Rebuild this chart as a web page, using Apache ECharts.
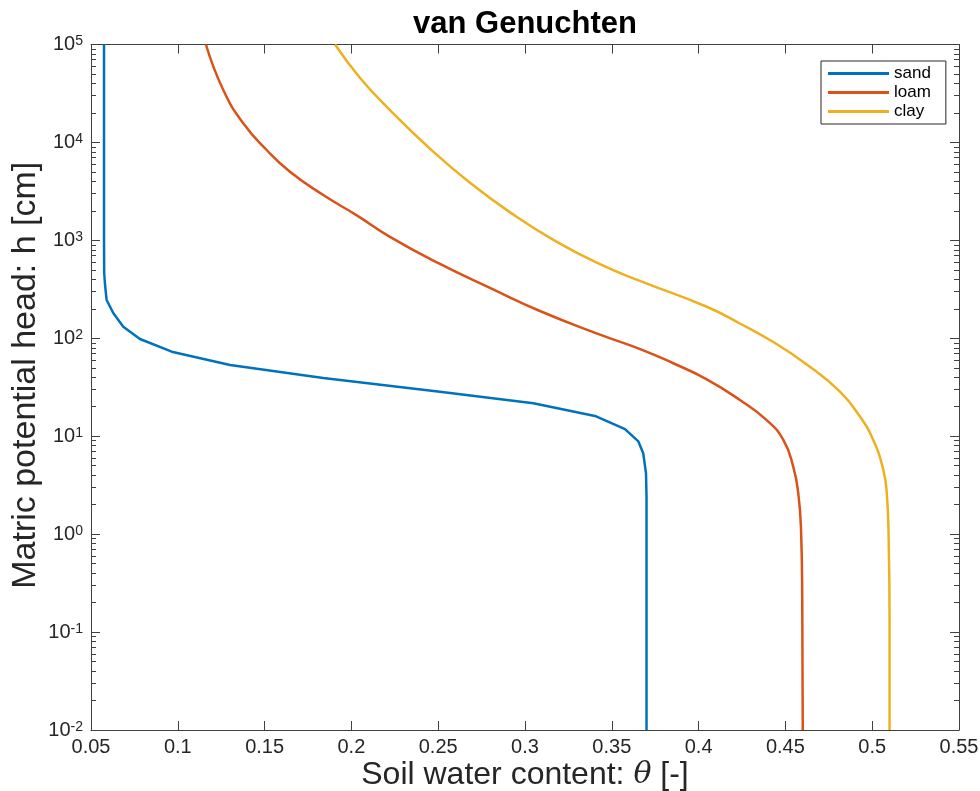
<!DOCTYPE html>
<html>
<head>
<meta charset="utf-8">
<script src="https://cdn.jsdelivr.net/npm/echarts@6/dist/echarts.min.js"></script>
<style>
html, body { margin: 0; padding: 0; background: #fff; }
#chart { width: 980px; height: 791px; }
</style>
</head>
<body>
<div id="chart"></div>
<script>
// soil types
var soilNames = ['sand', 'loam', 'clay'];
var soilColors = ['#0072BD', '#D95319', '#EDB120'];

// water content (x) and matric head in cm (y)
var sandTheta = [0.0575, 0.0575, 0.0575, 0.0576, 0.0581, 0.0590, 0.0628, 0.0686, 0.0782, 0.0965, 0.1301,
	0.1838, 0.2510, 0.3048, 0.3403, 0.3576, 0.3653, 0.3681, 0.3697, 0.3700, 0.3700];
var sandH = [100000, 10000, 1000, 464, 350, 246, 181, 131, 98.4, 73, 53.4,
	39.4, 28.5, 21.7, 16.1, 11.8, 8.85, 6.7, 4.2, 2.4, 0.01];

var loamTheta = [0.1162, 0.1262, 0.1377, 0.1512, 0.1646, 0.1838, 0.2031, 0.2222, 0.2510, 0.2798, 0.3086, 0.3432,
	0.3667, 0.3854, 0.4047, 0.4238, 0.4392, 0.4488, 0.4545, 0.4574, 0.4590, 0.4597, 0.4600];
var loamH = [100000, 34300, 15700, 8370, 5030, 2900, 1800, 1085, 574, 327, 190, 109,
	77.2, 55.6, 38.1, 23.4, 14.6, 9.15, 4.89, 2.62, 1.11, 0.214, 0.01];

var clayTheta = [0.1906, 0.2050, 0.2222, 0.2453, 0.2683, 0.2914, 0.3173, 0.3432, 0.3662, 0.4047, 0.4238, 0.4430,
	0.4623, 0.4814, 0.4930, 0.5006, 0.5064, 0.5084, 0.5095, 0.5100, 0.5100];
var clayH = [100000, 45500, 21400, 8610, 3870, 1930, 988, 571, 385, 210, 141.6, 91.6,
	54, 28.5, 15.8, 9.15, 4.52, 2.61, 0.87, 0.133, 0.01];

// axis ticks
var majorH = [0.01, 0.1, 1, 10, 100, 1000, 10000, 100000];
var minorH = [];
majorH.slice(0, -1).forEach(function (d) {
	for (var k = 2; k <= 9; k++) minorH.push(+(d * k).toPrecision(3));
});

var font = '"Liberation Sans", Arial, Helvetica, sans-serif';
var axisColor = '#404040';
var textColor = '#262626';

function pairs(xs, ys) {
	return xs.map(function (x, i) { return [x, ys[i]]; });
}

var chart = echarts.init(document.getElementById('chart'));

var gridBox = { left: 91, right: 21, top: 44.5, bottom: 61, containLabel: false, outerBoundsMode: 'none' };

var option = {
	backgroundColor: '#fff',
	animation: false,
	title: {
		text: 'van Genuchten',
		left: 525,
		top: 9,
		padding: 0,
		textAlign: 'center',
		textStyle: { fontFamily: font, fontSize: 31, fontWeight: 'bold', color: '#000' }
	},
	legend: {
		orient: 'vertical',
		left: 821,
		top: 61,
		padding: [4, 15, 4, 7],
		icon: 'rect',
		itemWidth: 61,
		itemHeight: 3,
		itemGap: 2,
		borderColor: '#262626',
		borderWidth: 1,
		backgroundColor: '#fff',
		textStyle: { fontFamily: font, fontSize: 17, color: '#000' },
		data: soilNames
	},
	grid: [
		Object.assign({}, gridBox),
		Object.assign({}, gridBox)
	],
	xAxis: [{
		type: 'value',
		gridIndex: 0,
		position: 'bottom',
		min: 0.05,
		max: 0.55,
		interval: 0.05,
		name: '{n|Soil water content: }{t|θ}{n| [-]}',
		nameLocation: 'middle',
		nameGap: 29,
		nameMoveOverlap: false,
		nameTextStyle: {
			rich: {
				n: { fontFamily: font, fontSize: 32, color: textColor },
				t: { fontFamily: '"DejaVu Serif", serif', fontStyle: 'italic', fontSize: 30, color: textColor }
			}
		},
		axisLine: { lineStyle: { color: axisColor, width: 1 } },
		axisTick: { inside: true, length: 9, lineStyle: { color: axisColor } },
		axisLabel: {
			margin: 7,
			fontFamily: font,
			fontSize: 20,
			color: textColor,
			formatter: function (v) { return String(+v.toFixed(2)); }
		},
		splitLine: { show: false }
	}, {
		type: 'value',
		gridIndex: 0,
		position: 'top',
		min: 0.05,
		max: 0.55,
		interval: 0.05,
		axisLine: { lineStyle: { color: axisColor, width: 1 } },
		axisTick: { inside: true, length: 9, lineStyle: { color: axisColor } },
		axisLabel: { show: false },
		splitLine: { show: false }
	}, {
		type: 'value',
		gridIndex: 1,
		show: false,
		min: 0.05,
		max: 0.55
	}],
	yAxis: [{
		type: 'log',
		logBase: 10,
		gridIndex: 0,
		position: 'left',
		min: 0.01,
		max: 100000,
		name: 'Matric potential head: h [cm]',
		nameLocation: 'middle',
		nameGap: 48,
		nameMoveOverlap: false,
		nameTextStyle: { fontFamily: font, fontSize: 34, color: textColor, padding: [0, 0, 0, 24] },
		axisLine: { lineStyle: { color: axisColor, width: 1 } },
		axisTick: { inside: true, length: 9, customValues: majorH, lineStyle: { color: axisColor } },
		axisLabel: {
			margin: 8,
			customValues: majorH,
			formatter: function (v) {
				return '{b|10}{s|' + Math.round(Math.log10(v)) + '}';
			},
			rich: {
				b: { fontFamily: font, fontSize: 20, color: textColor, lineHeight: 20, verticalAlign: 'bottom' },
				s: { fontFamily: font, fontSize: 14, color: textColor, lineHeight: 14, verticalAlign: 'top', padding: [0, 0, 10, 0] }
			}
		},
		splitLine: { show: false }
	}, {
		type: 'log',
		logBase: 10,
		gridIndex: 0,
		position: 'right',
		min: 0.01,
		max: 100000,
		axisLine: { lineStyle: { color: axisColor, width: 1 } },
		axisTick: { inside: true, length: 9, customValues: majorH, lineStyle: { color: axisColor } },
		axisLabel: { show: false },
		splitLine: { show: false }
	}, {
		// minor ticks, left
		type: 'log',
		logBase: 10,
		gridIndex: 1,
		position: 'left',
		min: 0.01,
		max: 100000,
		axisLine: { show: false },
		axisTick: { inside: true, length: 5, customValues: minorH, lineStyle: { color: axisColor } },
		axisLabel: { show: false },
		splitLine: { show: false }
	}, {
		// minor ticks, right
		type: 'log',
		logBase: 10,
		gridIndex: 1,
		position: 'right',
		min: 0.01,
		max: 100000,
		axisLine: { show: false },
		axisTick: { inside: true, length: 5, customValues: minorH, lineStyle: { color: axisColor } },
		axisLabel: { show: false },
		splitLine: { show: false }
	}],
	series: [{
		name: soilNames[0],
		type: 'line',
		xAxisIndex: 0,
		yAxisIndex: 0,
		symbol: 'none',
		lineStyle: { width: 2.5, color: soilColors[0] },
		itemStyle: { color: soilColors[0] },
		data: pairs(sandTheta, sandH)
	}, {
		name: soilNames[1],
		type: 'line',
		xAxisIndex: 0,
		yAxisIndex: 0,
		symbol: 'none',
		smooth: 0.5,
		lineStyle: { width: 2.5, color: soilColors[1] },
		itemStyle: { color: soilColors[1] },
		data: pairs(loamTheta, loamH)
	}, {
		name: soilNames[2],
		type: 'line',
		xAxisIndex: 0,
		yAxisIndex: 0,
		symbol: 'none',
		smooth: 0.5,
		lineStyle: { width: 2.5, color: soilColors[2] },
		itemStyle: { color: soilColors[2] },
		data: pairs(clayTheta, clayH)
	}]
};

chart.setOption(option);
</script>
</body>
</html>
